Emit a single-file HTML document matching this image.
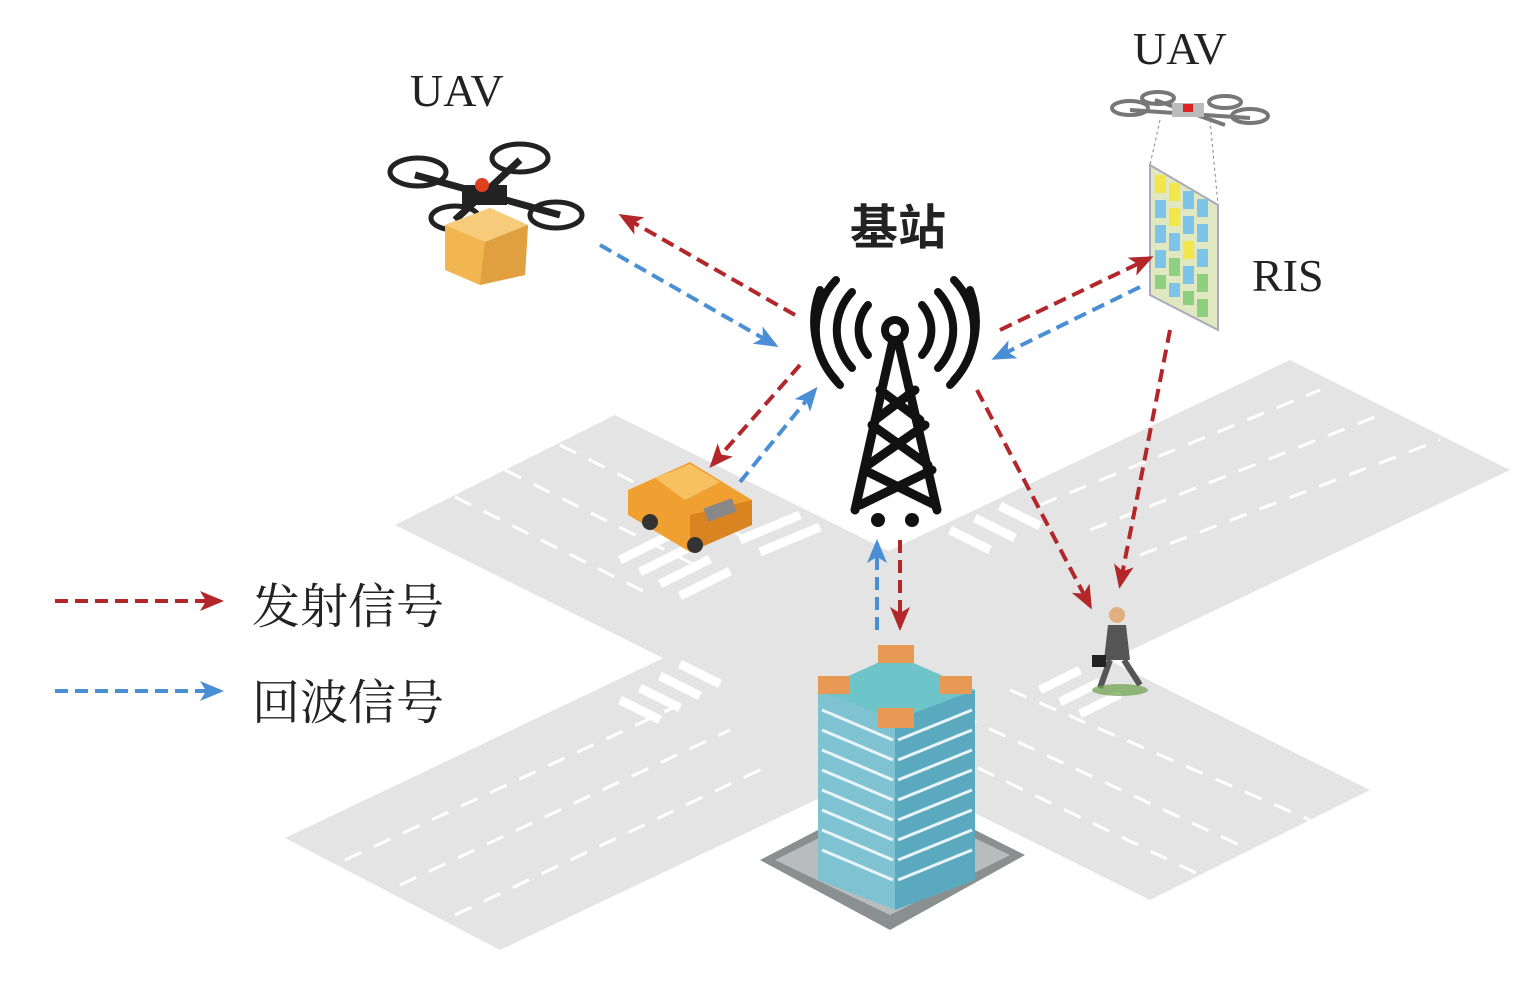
<!DOCTYPE html>
<html><head><meta charset="utf-8"><style>
html,body{margin:0;padding:0;background:#fff;}
svg{display:block;}
</style></head><body>
<svg width="1537" height="996" viewBox="0 0 1537 996" xmlns="http://www.w3.org/2000/svg">
<defs>
<marker id="ar" markerWidth="24" markerHeight="20" refX="20" refY="10" orient="auto" markerUnits="userSpaceOnUse" viewBox="0 0 24 20"><path d="M0,0 L24,10 L0,20 L6,10 Z" fill="#b3262a"/></marker>
<marker id="ab" markerWidth="24" markerHeight="20" refX="20" refY="10" orient="auto" markerUnits="userSpaceOnUse" viewBox="0 0 24 20"><path d="M0,0 L24,10 L0,20 L6,10 Z" fill="#4a8fd6"/></marker>
</defs>
<!-- roads -->
<polygon points="615,415 1370,790 1150,900 395,525" fill="#e4e4e4"/>
<polygon points="285,838 1290,360 1510,470 500,950" fill="#e4e4e4"/>
<g stroke="#fff" stroke-width="3" stroke-dasharray="18 14" fill="none">
<line x1="560" y1="445" x2="760" y2="545"/>
<line x1="505" y1="470" x2="705" y2="570"/>
<line x1="455" y1="497" x2="655" y2="597"/>
<line x1="1010" y1="690" x2="1310" y2="820"/>
<line x1="960" y1="715" x2="1250" y2="850"/>
<line x1="920" y1="740" x2="1200" y2="875"/>
<line x1="345" y1="860" x2="690" y2="700"/>
<line x1="400" y1="885" x2="730" y2="730"/>
<line x1="455" y1="915" x2="770" y2="765"/>
<line x1="1040" y1="505" x2="1320" y2="390"/>
<line x1="1090" y1="530" x2="1380" y2="415"/>
<line x1="1140" y1="555" x2="1440" y2="440"/>
</g>
<g stroke="#fff" stroke-width="9">
<line x1="620" y1="560" x2="670" y2="535"/><line x1="640" y1="572" x2="690" y2="547"/><line x1="660" y1="584" x2="710" y2="559"/><line x1="680" y1="596" x2="730" y2="571"/>
<line x1="740" y1="540" x2="800" y2="515"/><line x1="760" y1="552" x2="820" y2="527"/>
<line x1="620" y1="700" x2="660" y2="720"/><line x1="640" y1="688" x2="680" y2="708"/><line x1="660" y1="676" x2="700" y2="696"/><line x1="680" y1="664" x2="720" y2="684"/>
<line x1="1040" y1="690" x2="1080" y2="670"/><line x1="1060" y1="702" x2="1100" y2="682"/><line x1="1080" y1="714" x2="1120" y2="694"/>
<line x1="950" y1="530" x2="990" y2="550"/><line x1="975" y1="518" x2="1015" y2="538"/><line x1="1000" y1="506" x2="1040" y2="526"/>
</g>
<!-- building base -->
<polygon points="760,860 895,790 1025,855 890,930" fill="#8a8f8f"/>
<polygon points="775,860 895,800 1010,855 890,915" fill="#b9bcbc"/>
<!-- building -->
<polygon points="818,690 895,655 975,690 975,880 895,910 818,880" fill="#7fc3d3"/>
<polygon points="895,720 975,690 975,880 895,910" fill="#5aa9bf"/>
<polygon points="818,690 895,655 975,690 895,720" fill="#6dc4c9"/>
<g stroke="#e8f4f7" stroke-width="3">
<line x1="822" y1="710" x2="893" y2="740"/><line x1="822" y1="730" x2="893" y2="760"/><line x1="822" y1="750" x2="893" y2="780"/><line x1="822" y1="770" x2="893" y2="800"/><line x1="822" y1="790" x2="893" y2="820"/><line x1="822" y1="810" x2="893" y2="840"/><line x1="822" y1="830" x2="893" y2="860"/><line x1="822" y1="850" x2="893" y2="880"/>
<line x1="898" y1="740" x2="972" y2="710"/><line x1="898" y1="760" x2="972" y2="730"/><line x1="898" y1="780" x2="972" y2="750"/><line x1="898" y1="800" x2="972" y2="770"/><line x1="898" y1="820" x2="972" y2="790"/><line x1="898" y1="840" x2="972" y2="810"/><line x1="898" y1="860" x2="972" y2="830"/><line x1="898" y1="880" x2="972" y2="850"/>
</g>
<g fill="#e89a55"><rect x="878" y="645" width="36" height="18"/><rect x="818" y="676" width="32" height="18"/><rect x="940" y="676" width="32" height="18"/><rect x="878" y="708" width="36" height="20"/></g>
<!-- tower -->
<g stroke="#111" stroke-width="9" fill="none" stroke-linecap="round">
<line x1="893" y1="340" x2="855" y2="510"/><line x1="898" y1="340" x2="937" y2="510"/>
<line x1="880" y1="390" x2="920" y2="420"/><line x1="915" y1="390" x2="875" y2="420"/>
<line x1="872" y1="425" x2="928" y2="465"/><line x1="925" y1="425" x2="868" y2="465"/>
<line x1="864" y1="470" x2="935" y2="505"/><line x1="932" y1="470" x2="860" y2="505"/>
</g>
<circle cx="895" cy="330" r="14" fill="#111"/><circle cx="895" cy="330" r="6" fill="#fff"/>
<circle cx="878" cy="520" r="7" fill="#111"/><circle cx="912" cy="520" r="7" fill="#111"/>
<g stroke="#111" stroke-width="8" fill="none" stroke-linecap="round">
<path d="M868,305 A38,38 0 0 0 868,355"/><path d="M922,305 A38,38 0 0 1 922,355"/>
<path d="M852,292 A55,55 0 0 0 852,368"/><path d="M938,292 A55,55 0 0 1 938,368"/>
<path d="M836,280 A72,72 0 0 0 836,380"/><path d="M954,280 A72,72 0 0 1 954,380"/>
<path d="M820,290 A90,90 0 0 0 840,385"/><path d="M970,290 A90,90 0 0 1 950,385"/>
</g>
<!-- car -->
<polygon points="628,490 690,462 752,500 752,525 690,552 628,515" fill="#f0a030"/>
<polygon points="655,478 690,464 720,482 685,500" fill="#f7c060"/>
<polygon points="690,515 752,500 752,525 690,552" fill="#d98420"/>
<circle cx="650" cy="522" r="8" fill="#333"/><circle cx="695" cy="545" r="8" fill="#333"/>
<rect x="705" y="503" width="30" height="14" fill="#888" transform="rotate(-20 720 510)"/>
<!-- person -->
<circle cx="1117" cy="615" r="8" fill="#e0b080"/>
<polygon points="1108,625 1126,625 1130,660 1104,660" fill="#555"/>
<line x1="1110" y1="660" x2="1100" y2="688" stroke="#555" stroke-width="6"/>
<line x1="1124" y1="660" x2="1140" y2="685" stroke="#555" stroke-width="6"/>
<rect x="1092" y="655" width="14" height="12" fill="#222"/>
<ellipse cx="1120" cy="690" rx="28" ry="6" fill="#6aa04a" opacity="0.7"/>
<!-- left drone -->
<g fill="#222">
<line x1="415" y1="175" x2="560" y2="215" stroke="#222" stroke-width="7"/>
<line x1="520" y1="160" x2="455" y2="220" stroke="#222" stroke-width="7"/>
<ellipse cx="418" cy="172" rx="28" ry="14" fill="none" stroke="#222" stroke-width="5"/>
<ellipse cx="520" cy="158" rx="28" ry="14" fill="none" stroke="#222" stroke-width="5"/>
<ellipse cx="455" cy="218" rx="24" ry="12" fill="none" stroke="#222" stroke-width="5"/>
<ellipse cx="556" cy="215" rx="26" ry="13" fill="none" stroke="#222" stroke-width="5"/>
<rect x="462" y="185" width="45" height="20"/>
</g>
<circle cx="482" cy="185" r="7" fill="#e04020"/>
<polygon points="445,225 490,208 528,225 525,275 480,285 445,270" fill="#f1b64f"/>
<polygon points="445,225 490,208 528,225 485,242" fill="#f6cb79"/>
<polygon points="485,242 528,225 525,275 480,285" fill="#e0a040"/>
<!-- right drone -->
<g stroke="#777" stroke-width="4" fill="none">
<line x1="1130" y1="110" x2="1250" y2="118"/><line x1="1155" y1="100" x2="1225" y2="125"/>
<ellipse cx="1130" cy="108" rx="18" ry="7"/><ellipse cx="1250" cy="116" rx="18" ry="7"/>
<ellipse cx="1158" cy="98" rx="16" ry="6"/><ellipse cx="1225" cy="102" rx="16" ry="6"/>
</g>
<rect x="1172" y="103" width="32" height="14" fill="#bbb"/><rect x="1183" y="104" width="10" height="8" fill="#d22"/>
<g stroke="#888" stroke-width="1" stroke-dasharray="3 3"><line x1="1160" y1="120" x2="1150" y2="165"/><line x1="1210" y1="120" x2="1218" y2="205"/></g>
<!-- RIS -->
<polygon points="1150,165 1218,205 1218,330 1150,295" fill="#dfe8c0" stroke="#aab" stroke-width="2"/>
<g>
<rect x="1155" y="175" width="11" height="18" fill="#f2e64a"/><rect x="1169" y="183" width="11" height="18" fill="#f2e64a"/><rect x="1183" y="191" width="11" height="18" fill="#7cc4e8"/><rect x="1197" y="199" width="11" height="18" fill="#7cc4e8"/>
<rect x="1155" y="200" width="11" height="18" fill="#7cc4e8"/><rect x="1169" y="208" width="11" height="18" fill="#f2e64a"/><rect x="1183" y="216" width="11" height="18" fill="#7cc4e8"/><rect x="1197" y="224" width="11" height="18" fill="#7cc4e8"/>
<rect x="1155" y="225" width="11" height="18" fill="#7cc4e8"/><rect x="1169" y="233" width="11" height="18" fill="#7cc4e8"/><rect x="1183" y="241" width="11" height="18" fill="#f2e64a"/><rect x="1197" y="249" width="11" height="18" fill="#7cc4e8"/>
<rect x="1155" y="250" width="11" height="18" fill="#7cc4e8"/><rect x="1169" y="258" width="11" height="18" fill="#8fd080"/><rect x="1183" y="266" width="11" height="18" fill="#7cc4e8"/><rect x="1197" y="274" width="11" height="18" fill="#8fd080"/>
<rect x="1155" y="275" width="11" height="14" fill="#8fd080"/><rect x="1169" y="283" width="11" height="14" fill="#7cc4e8"/><rect x="1183" y="291" width="11" height="14" fill="#8fd080"/><rect x="1197" y="299" width="11" height="18" fill="#8fd080"/>
</g>
<!-- arrows -->
<g fill="none" stroke-width="4" stroke-dasharray="13 7">
<line x1="795" y1="315" x2="622" y2="216" stroke="#b3262a" marker-end="url(#ar)"/>
<line x1="600" y1="245" x2="775" y2="345" stroke="#4a8fd6" marker-end="url(#ab)"/>
<line x1="800" y1="365" x2="712" y2="465" stroke="#b3262a" marker-end="url(#ar)"/>
<line x1="740" y1="482" x2="815" y2="390" stroke="#4a8fd6" marker-end="url(#ab)"/>
<line x1="1000" y1="330" x2="1150" y2="258" stroke="#b3262a" marker-end="url(#ar)"/>
<line x1="1140" y1="287" x2="995" y2="358" stroke="#4a8fd6" marker-end="url(#ab)"/>
<line x1="1170" y1="330" x2="1120" y2="585" stroke="#b3262a" marker-end="url(#ar)"/>
<line x1="977" y1="390" x2="1090" y2="606" stroke="#b3262a" marker-end="url(#ar)"/>
<line x1="900" y1="540" x2="900" y2="627" stroke="#b3262a" marker-end="url(#ar)"/>
<line x1="877" y1="630" x2="877" y2="543" stroke="#4a8fd6" marker-end="url(#ab)"/>
<line x1="55" y1="601" x2="220" y2="601" stroke="#b3262a" marker-end="url(#ar)"/>
<line x1="55" y1="691" x2="220" y2="691" stroke="#4a8fd6" marker-end="url(#ab)"/>
</g>
<!-- text -->
<g font-family="'Liberation Serif','Noto Serif CJK SC',serif" fill="#222">
<text x="410" y="106" font-size="46">UAV</text>
<text x="1133" y="64" font-size="46">UAV</text>
<text x="1252" y="291" font-size="46">RIS</text>
<text x="850" y="244" font-size="48" font-weight="bold" font-family="'Liberation Sans','Noto Sans CJK SC',sans-serif">基站</text>
<text x="252" y="623" font-size="48">发射信号</text>
<text x="252" y="719" font-size="48">回波信号</text>
</g>
</svg>
</body></html>
